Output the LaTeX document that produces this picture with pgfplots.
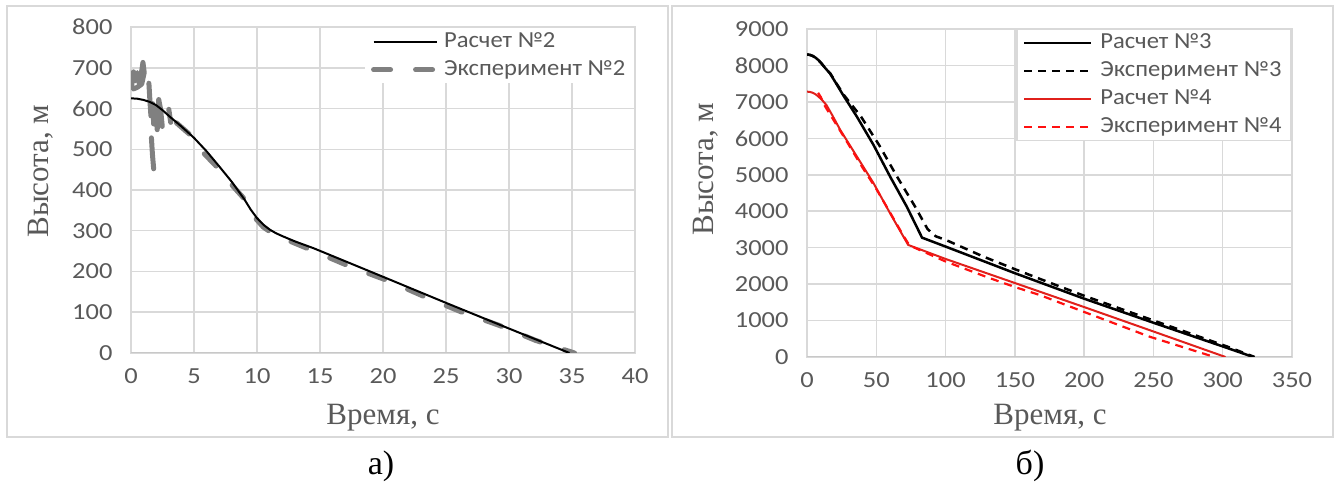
\documentclass[border=0pt]{standalone}
\usepackage{fontspec}
\usepackage{pgfplots}
\pgfplotsset{compat=1.18}
\setmainfont{Liberation Serif}
\newfontfamily\carlito[FakeStretch=1.15]{Carlito}
\newfontfamily\carlitoleg[FakeStretch=1.07]{Carlito}
\newfontfamily\lserif{Liberation Serif}
\definecolor{gridc}{HTML}{D9D9D9}
\definecolor{axc}{HTML}{C8C8C8}
\definecolor{txt}{HTML}{595959}
\definecolor{expgray}{HTML}{808080}
\definecolor{calcred}{HTML}{E0201B}
\definecolor{expred}{HTML}{FF1010}
\pgfplotsset{
  base/.style={
    scale only axis,
    grid=major,
    major grid style={gridc, line width=1.5pt},
    axis line style={gridc, line width=1.5pt},
    tick style={draw=none},
    /pgf/number format/assume math mode=true,
    /pgf/number format/1000 sep={},
    scaled ticks=false,
    ticklabel style={font=\carlito\fontsize{23}{27}\selectfont, text=txt},
    xticklabel style={yshift=-12pt},
    yticklabel style={xshift=-15pt},
    label style={font=\lserif\fontsize{31}{36}\selectfont, text=txt},
    legend cell align=left,
    legend style={font=\carlitoleg\fontsize{23}{27}\selectfont, text=txt,
      anchor=north west, inner xsep=6pt, inner ysep=0pt, row sep=1pt,
      nodes={inner sep=3pt, text height=16pt, text depth=5pt},
      /tikz/every odd column/.append style={column sep=5pt}},
  },
}
\begin{document}
\begin{tikzpicture}
\path[use as bounding box] (0pt,0pt) rectangle (1335pt,486pt);
\draw[gridc, line width=1.5pt] (7pt,49pt) rectangle (668pt,480pt);
\draw[gridc, line width=1.5pt] (672pt,49pt) rectangle (1333pt,480pt);

\begin{axis}[base,
  at={(131pt,133pt)}, anchor=south west,
  width=504pt, height=326pt,
  xmin=0, xmax=40, ymin=0, ymax=800,
  xtick={0,5,...,40}, ytick={0,100,...,800},
  xlabel={Время, с}, ylabel={Высота, м},
  xlabel style={at={(axis description cs:0.5,-0.199)}, anchor=center},
  ylabel style={at={(axis description cs:-0.18,0.558)}, anchor=center},
  legend style={draw=none, fill=white, at={(axis description cs:0.464,0.997)},
    /tikz/every odd column/.append style={column sep=2pt}},
  legend image code/.code={\draw[#1] (0pt,0pt) -- (63pt,0pt);},
  unbounded coords=jump,
]
\draw[axc, line width=1.5pt] (rel axis cs:0,0) -- (rel axis cs:1,0);
% noisy beginning of experiment No.2 (clusters of readings)
\addplot[expgray, line width=5pt, line cap=round, line join=round, forget plot] coordinates {
(0.05,655) (0.2,690) (0.35,668) (0.5,688) (0.65,662) (0.8,682) (0.95,713) (1.05,688) (0.85,660) (0.5,652) (0.2,648)
(nan,nan)
(1.42,662) (1.5,620) (1.58,582)
(nan,nan)
(1.72,612) (1.8,562) (1.95,604) (2.08,548) (2.2,622) (2.35,598) (2.48,556)
(nan,nan)
(1.62,528) (1.7,488) (1.8,452)
(nan,nan)
(3.0,598) (3.15,566)
};
\addplot[expgray, line width=5pt, line cap=round, dash pattern=on 17pt off 25pt, forget plot] coordinates {
(3.6,565) (4.6,538) (5.5,499) (6.9,454) (8.1,409) (9.0,378) (9.6,340) (10.5,309)
(11.3,292) (12.1,281) (14.2,254) (17.4,212) (20.6,175) (23.3,138) (26.2,101) (29.2,68)
(32.1,31) (35.2,0)
};
\addplot[black, line width=2pt] coordinates {
(0,625) (0.5,624) (1,621) (1.5,616) (2,608) (2.5,596) (3,582) (4,556) (5,528) (6,495)
(7,458) (8,420) (9,377) (9.5,352) (10,331) (10.5,315) (11,303) (11.5,294) (12,287)
(13,274) (14.5,257) (20,187) (25,123) (30,60) (34.8,0)
};
\addlegendentry{Расчет №2}
\addlegendimage{expgray, line width=5pt, line cap=round, dash pattern=on 17pt off 25pt}
\addlegendentry{Эксперимент №2}
\end{axis}

\begin{axis}[base,
  at={(807pt,129pt)}, anchor=south west,
  width=485pt, height=328pt,
  xmin=0, xmax=350, ymin=0, ymax=9000,
  xtick={0,50,...,350}, ytick={0,1000,...,9000},
  xlabel={Время, с}, ylabel={Высота, м},
  xlabel style={at={(axis description cs:0.501,-0.186)}, anchor=center},
  ylabel style={at={(axis description cs:-0.208,0.573)}, anchor=center},
  legend style={draw=gridc, line width=1.5pt, fill=white, at={(axis description cs:0.431,1)}},
  legend image code/.code={\draw[#1] (0pt,0pt) -- (67pt,0pt);},
]
\draw[axc, line width=1.5pt] (rel axis cs:0,0) -- (rel axis cs:1,0);
\addplot[black, line width=2.5pt] coordinates {
(0,8300) (2,8290) (4,8262) (6,8218) (8,8155) (10,8075) (13,7935) (16.6,7780) (20,7570)
(26,7190) (36,6594) (48,5818) (60,4948) (72,4125) (83,3275) (100,3030) (150,2300)
(200,1600) (250,940) (300,290) (322,0)
};
\addlegendentry{Расчет №3}
\addplot[black, line width=2.5pt, dash pattern=on 8pt off 6pt] coordinates {
(0,8300) (2,8290) (4,8262) (6,8218) (8,8155) (10,8075) (13,7935) (17,7770) (21,7520)
(27,7170) (39,6594) (52,5818) (65,4948) (78,4125) (87,3510) (93,3310) (100,3215)
(127,2760) (151,2395) (170,2115) (200,1680) (252,975) (303,290) (323,0)
};
\addlegendentry{Эксперимент №3}
\addplot[calcred, line width=2pt] coordinates {
(0,7280) (2,7275) (4,7252) (6,7212) (8,7155) (11,7045) (14,6915) (18,6650) (24,6230)
(36,5500) (48,4770) (60,3940) (73,3075) (100,2690) (150,2030) (200,1370) (250,700) (302,0)
};
\addlegendentry{Расчет №4}
\addplot[expred, line width=2.2pt, dash pattern=on 8pt off 6pt] coordinates {
(8,7250) (10,7130) (13,6880) (20,6450) (30,5830) (40,5200) (50,4610) (60,3960) (70,3300)
(74,3060) (100,2620) (130,2190) (150,1920) (168,1700) (199,1250) (247,560) (294,0)
};
\addlegendentry{Эксперимент №4}
\end{axis}

\node[font=\lserif\fontsize{34}{40}\selectfont] at (381pt,20pt) {а)};
\node[font=\lserif\fontsize{34}{40}\selectfont] at (1030pt,20pt) {б)};
\end{tikzpicture}
\end{document}
